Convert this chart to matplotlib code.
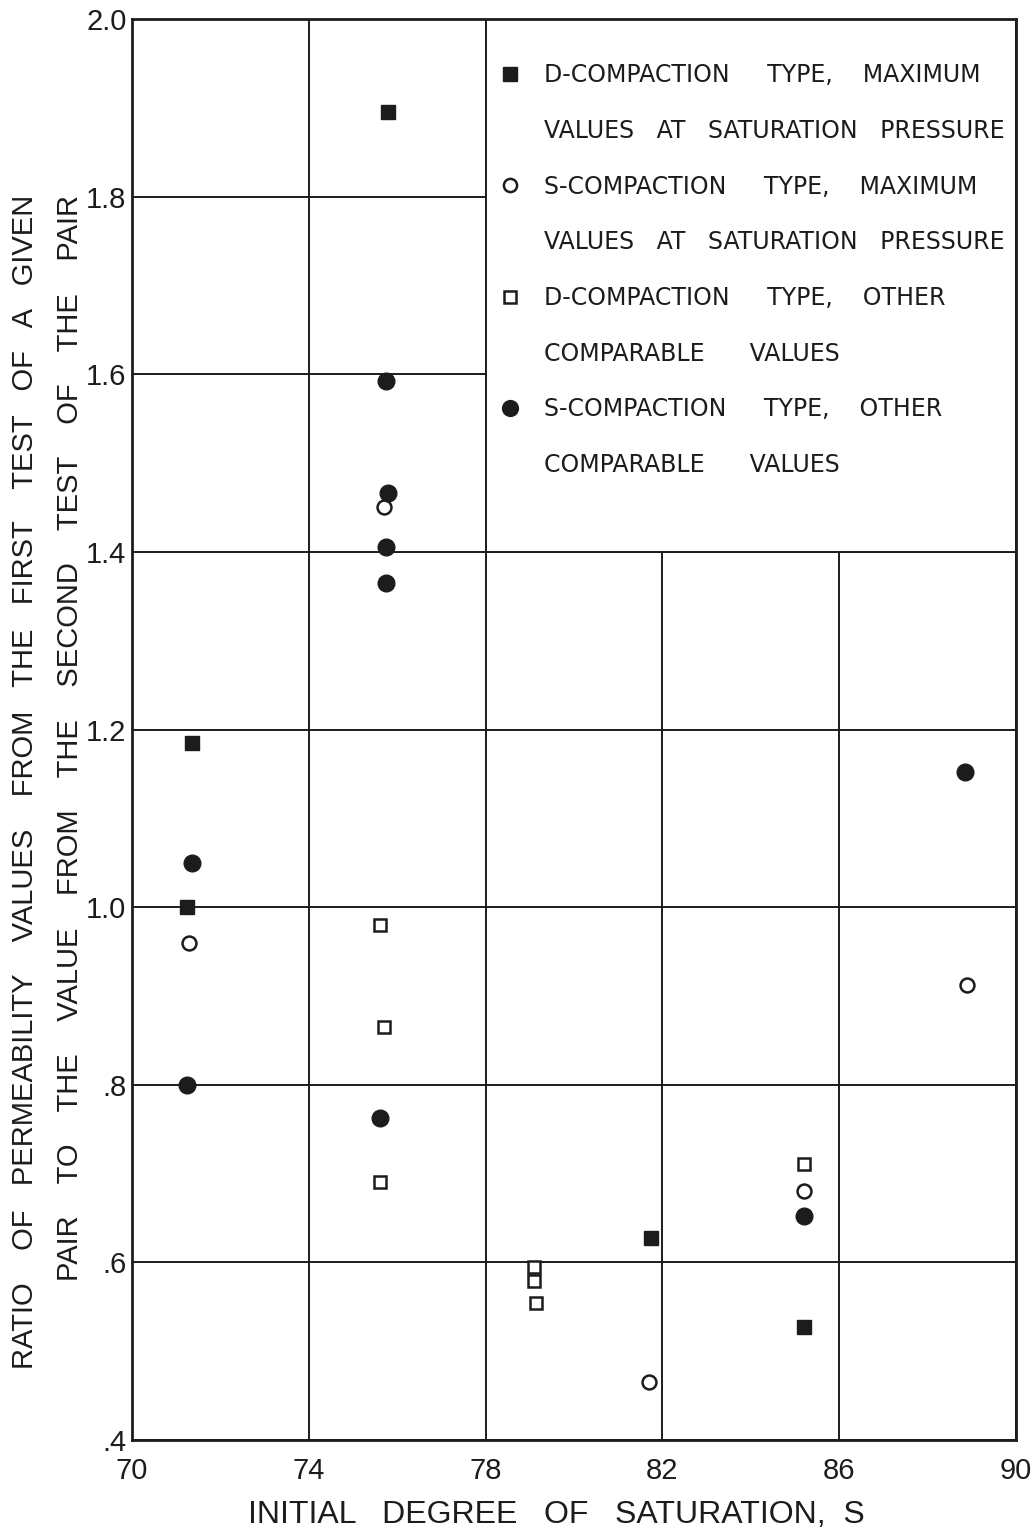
import matplotlib
matplotlib.use("Agg")
import matplotlib.pyplot as plt
from matplotlib.lines import Line2D
from matplotlib.patches import Rectangle

# D-compaction type, maximum values at saturation pressure (filled squares)
d_max_x = [75.8, 71.35, 71.25, 81.75, 85.2]
d_max_y = [1.895, 1.185, 1.0, 0.628, 0.527]
# S-compaction type, maximum values at saturation pressure (open circles)
s_max_x = [75.7, 71.3, 88.9, 81.7, 85.2]
s_max_y = [1.45, 0.96, 0.912, 0.465, 0.68]
# D-compaction type, other comparable values (open squares)
d_oth_x = [75.6, 75.7, 75.6, 79.1, 79.1, 79.15, 85.2]
d_oth_y = [0.98, 0.865, 0.69, 0.595, 0.579, 0.554, 0.711]
# S-compaction type, other comparable values (filled circles)
s_oth_x = [75.75, 75.8, 75.75, 75.75, 71.35, 71.25, 75.6, 85.2, 88.85]
s_oth_y = [1.592, 1.466, 1.405, 1.365, 1.05, 0.8, 0.763, 0.652, 1.152]

x_ticks = [70, 74, 78, 82, 86, 90]
y_ticks = [0.4, 0.6, 0.8, 1.0, 1.2, 1.4, 1.6, 1.8, 2.0]
y_tick_labels = [".4", ".6", ".8", "1.0", "1.2", "1.4", "1.6", "1.8", "2.0"]

legend_lines = [
    "D-COMPACTION     TYPE,    MAXIMUM",
    "VALUES   AT   SATURATION   PRESSURE",
    "S-COMPACTION     TYPE,    MAXIMUM",
    "VALUES   AT   SATURATION   PRESSURE",
    "D-COMPACTION     TYPE,    OTHER",
    "COMPARABLE      VALUES",
    "S-COMPACTION     TYPE,    OTHER",
    "COMPARABLE      VALUES",
]

x_label = "INITIAL   DEGREE   OF   SATURATION,  S"
y_label_1 = "RATIO    OF   PERMEABILITY    VALUES    FROM   THE   FIRST    TEST   OF   A   GIVEN"
y_label_2 = "PAIR    TO    THE    VALUE    FROM    THE    SECOND    TEST    OF    THE    PAIR"

ink = "#1c1c1c"
axis_font = ["Liberation Sans", "DejaVu Sans"]

fig = plt.figure(figsize=(10.36, 15.31), dpi=100)
ax = fig.add_axes([0.1274, 0.0594, 0.8533, 0.9282])

ax.set_xlim(70, 90)
ax.set_ylim(0.4, 2.0)
ax.set_xticks(x_ticks)
ax.set_xticklabels([str(v) for v in x_ticks], family=axis_font, fontsize=21, color=ink)
ax.set_yticks(y_ticks)
ax.set_yticklabels(y_tick_labels, family=axis_font, fontsize=21, color=ink)
ax.tick_params(length=0, pad=4)
ax.tick_params(axis="x", pad=12)

ax.set_axisbelow(True)
ax.grid(True, color=ink, linewidth=1.4)
for s in ax.spines.values():
    s.set_color(ink)
    s.set_linewidth(2.0)

# legend panel covers the upper right grid cells
ax.add_patch(Rectangle((78, 1.4), 12, 0.6, facecolor="white", edgecolor=ink,
                       linewidth=1.4, zorder=1))

h1, = ax.plot(d_max_x, d_max_y, "s", color=ink, markersize=10, zorder=3)
h2, = ax.plot(s_max_x, s_max_y, "o", markerfacecolor="white", markeredgecolor=ink,
              markeredgewidth=1.8, markersize=10, zorder=3)
h3, = ax.plot(d_oth_x, d_oth_y, "s", markerfacecolor="white", markeredgecolor=ink,
              markeredgewidth=1.8, markersize=9, zorder=3)
h4, = ax.plot(s_oth_x, s_oth_y, "o", color=ink, markersize=12, zorder=3)

blank = Line2D([], [], linestyle="none")
handles = [h1, blank, h2, blank, h3, blank, h4, blank]
leg = ax.legend(handles, legend_lines, loc="upper left",
                bbox_to_anchor=(0.4152, 0.9687), frameon=False,
                prop={"family": "DejaVu Sans", "size": 17},
                handlelength=0.95, handletextpad=0.95, borderpad=0,
                borderaxespad=0, labelspacing=1.34, markerscale=0.95)
leg.set_zorder(5)
for t in leg.get_texts():
    t.set_color(ink)

ax.set_xlabel(x_label, family=axis_font, fontsize=23, color=ink)
ax.xaxis.set_label_coords(0.4796, -0.042)
fig.text(25 / 1036, 1 - 195 / 1531, y_label_1, rotation=90, ha="center", va="top",
         family=axis_font, fontsize=21, color=ink)
fig.text(70 / 1036, 1 - 195 / 1531, y_label_2, rotation=90, ha="center", va="top",
         family=axis_font, fontsize=21, color=ink)

fig.savefig("out.png", dpi=100)
